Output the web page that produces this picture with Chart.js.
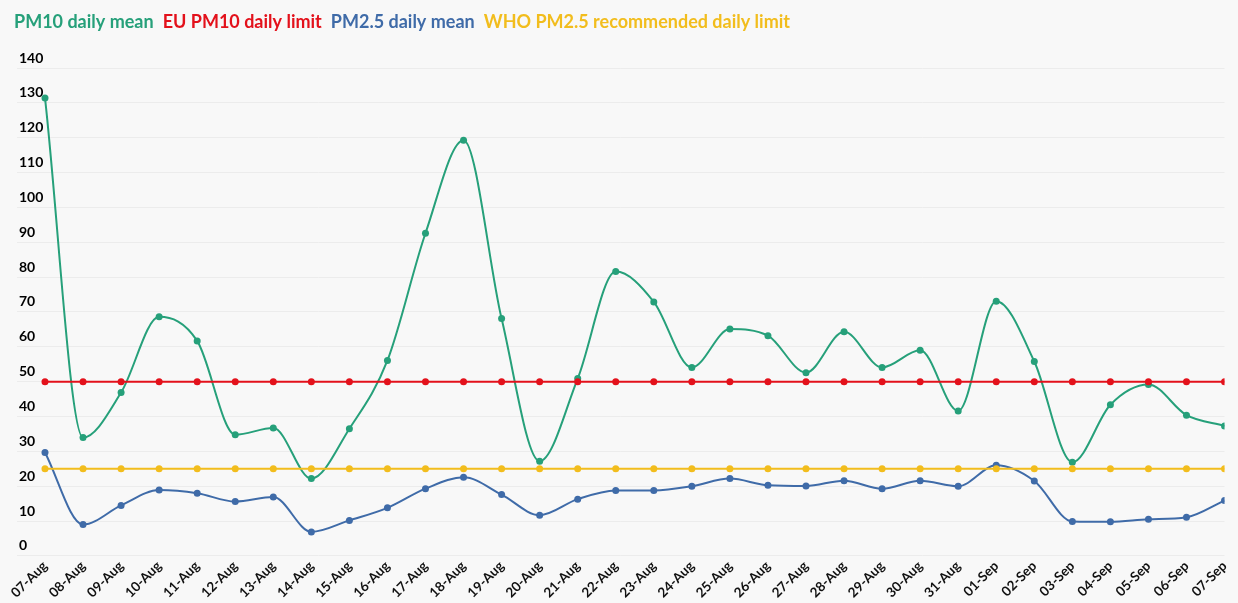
<!DOCTYPE html>
<html>
<head>
<meta charset="utf-8">
<script src="https://cdn.jsdelivr.net/npm/chart.js@4.4.1/dist/chart.umd.min.js"></script>
<style>
  html, body { margin: 0; padding: 0; background: #f8f8f8; }
  #wrap { width: 1238px; height: 603px; }
</style>
</head>
<body>
<div id="wrap"><canvas id="myChart"></canvas></div>
<script>
const dates = ['07-Aug','08-Aug','09-Aug','10-Aug','11-Aug','12-Aug','13-Aug','14-Aug','15-Aug','16-Aug',
  '17-Aug','18-Aug','19-Aug','20-Aug','21-Aug','22-Aug','23-Aug','24-Aug','25-Aug','26-Aug','27-Aug',
  '28-Aug','29-Aug','30-Aug','31-Aug','01-Sep','02-Sep','03-Sep','04-Sep','05-Sep','06-Sep','07-Sep'];
const pm10 = [131.4, 34.0, 46.9, 68.6, 61.7, 34.8, 36.7, 22.2, 36.5, 56.1,
  92.6, 119.3, 68.1, 27.2, 50.9, 81.6, 72.9, 54.1, 65.1, 63.2, 52.6,
  64.3, 54.1, 59.0, 41.6, 73.1, 55.8, 26.9, 43.4, 49.2, 40.4, 37.3];
const euLimit = [50,50,50,50,50,50,50,50,50,50,50,50,50,50,50,50,50,50,50,50,50,50,50,50,50,50,50,50,50,50,50,50];
const pm25 = [29.7, 9.0, 14.5, 18.9, 18.0, 15.6, 16.9, 6.9, 10.2, 13.8,
  19.3, 22.6, 17.6, 11.7, 16.3, 18.8, 18.8, 20.0, 22.2, 20.3, 20.1,
  21.6, 19.3, 21.6, 20.0, 26.0, 21.5, 9.9, 9.8, 10.5, 11.1, 15.9];
const whoLimit = [25,25,25,25,25,25,25,25,25,25,25,25,25,25,25,25,25,25,25,25,25,25,25,25,25,25,25,25,25,25,25,25];
const yTicks = [0,10,20,30,40,50,60,70,80,90,100,110,120,130,140];

function pts(values) {
    return values.map((v, i) => ({x: i, y: v}));
}

function series(label, values, color, order) {
    return {
        label: label,
        data: pts(values),
        borderColor: color,
        backgroundColor: color,
        pointBackgroundColor: color,
        pointBorderWidth: 0,
        pointRadius: 3.5,
        borderWidth: 2,
        cubicInterpolationMode: 'monotone',
        order: order
    };
}

// push the plot down below the legend
const legendMargin = {
    id: 'legendMargin',
    beforeInit(chart) {
        const fit = chart.legend.fit;
        chart.legend.fit = function () {
            fit.bind(chart.legend)();
            this.height += 27;
        };
    }
};

const ctx = document.getElementById('myChart');
new Chart(ctx, {
    type: 'line',
    data: {
        datasets: [
            series('PM10 daily mean', pm10, '#26a07a', 3),
            series('EU PM10 daily limit', euLimit, '#e3111b', 1),
            series('PM2.5 daily mean', pm25, '#3f6ba8', 4),
            series('WHO PM2.5 recommended daily limit', whoLimit, '#f2bd1d', 2)
        ]
    },
    plugins: [legendMargin],
    options: {
        responsive: true,
        maintainAspectRatio: false,
        animation: false,
        layout: { padding: { left: 5, right: 13, top: 13, bottom: 0 } },
        plugins: {
            tooltip: { enabled: false },
            legend: {
                position: 'top',
                align: 'start',
                labels: {
                    boxWidth: 0,
                    boxHeight: 0,
                    padding: 0,
                    font: { family: 'Lato', size: 18, weight: 'bold' },
                    generateLabels: (chart) => chart.data.datasets.map((ds, i) => ({
                        text: ds.label,
                        fontColor: ds.borderColor,
                        fillStyle: 'rgba(0,0,0,0)',
                        strokeStyle: 'rgba(0,0,0,0)',
                        lineWidth: 0,
                        datasetIndex: i
                    }))
                }
            }
        },
        scales: {
            x: {
                type: 'linear',
                min: -28 / 38.06,
                max: dates.length - 1,
                border: { display: false },
                grid: { display: false, drawTicks: false },
                afterBuildTicks: (axis) => {
                    axis.ticks = dates.map((d, i) => ({value: i}));
                },
                ticks: {
                    autoSkip: false,
                    maxRotation: 45,
                    minRotation: 45,
                    padding: 2,
                    color: '#111',
                    font: { family: 'Lato', size: 13.5, weight: 'bold' },
                    callback: (v) => dates[v]
                }
            },
            y: {
                min: 0,
                max: 140,
                border: { display: false },
                grid: { color: '#ececec', drawTicks: false },
                afterBuildTicks: (axis) => {
                    axis.ticks = yTicks.map(v => ({value: v}));
                },
                afterFit: (axis) => {
                    axis.width = 12;
                },
                ticks: {
                    mirror: true,
                    padding: 2,
                    labelOffset: -10,
                    color: '#000',
                    font: { family: 'Lato', size: 14, weight: 'bold' }
                }
            }
        }
    }
});
</script>
</body>
</html>
